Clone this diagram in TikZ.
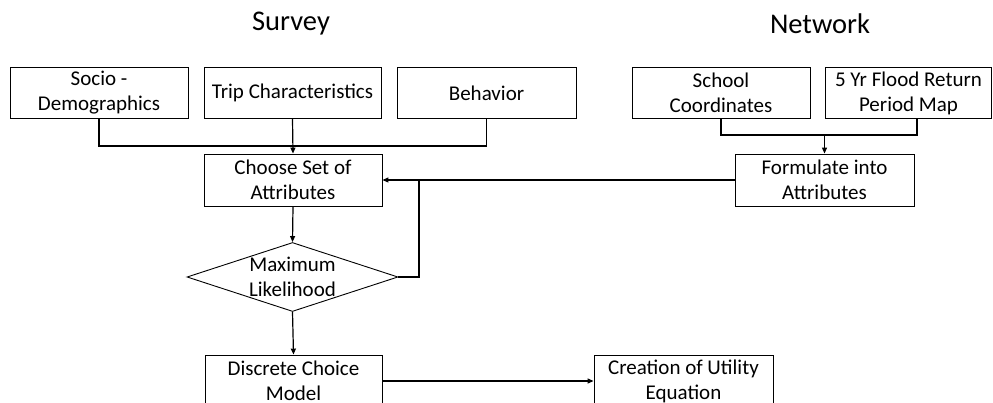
\documentclass[tikz,border=0pt]{standalone}
\usepackage{fontspec}
\setmainfont{Carlito}
\usetikzlibrary{shapes.geometric, arrows.meta}
\begin{document}
\begin{tikzpicture}[x=1pt, y=-1pt,
  box/.style={draw, line width=0.9pt, align=center, inner sep=0pt,
    font=\fontsize{21}{25}\selectfont, minimum height=51pt},
  txt/.style={align=center, inner sep=0pt, font=\fontsize{21}{25}\selectfont},
  ttl/.style={inner sep=0pt, font=\fontsize{28.5}{32}\selectfont},
  conn/.style={line width=1.2pt},
  arr/.style={line width=1.2pt, -{Triangle[length=6pt,width=5pt]}}]
\useasboundingbox (0,0) rectangle (993,403);
\clip (0,0) rectangle (993,403);
\node[ttl] (survey) at (291,24) {Survey};
\node[ttl] (network) at (820,24) {Network};
\node[box, minimum width=178pt] (socio) at (99,93) {Socio -\\Demographics};
\node[box, minimum width=177pt] (trip) at (292.5,93) {Trip Characteristics};
\node[box, minimum width=179pt] (behav) at (486.5,93) {Behavior};
\node[box, minimum width=178pt] (school) at (721,93) {School\\Coordinates};
\node[box, minimum width=166pt] (flood) at (908.5,93) {5 Yr Flood Return\\Period Map};
\node[box, minimum width=178pt, minimum height=52pt] (choose) at (293,180) {Choose Set of\\Attributes};
\node[box, minimum width=179pt, minimum height=52pt] (form) at (824.5,180) {Formulate into\\Attributes};
\node[draw, diamond, line width=0.9pt, inner sep=0pt, minimum width=211pt, minimum height=69pt] (ml) at (292.5,277) {};
\node[txt] (mltext) at (ml.center) {Maximum\\Likelihood};
\node[box, minimum width=177pt, minimum height=52pt] (disc) at (293.5,381) {Discrete Choice\\Model};
\node[box, minimum width=179pt, minimum height=52pt] (creat) at (683.5,381) {Creation of Utility\\Equation};
% survey connectors
\coordinate (j1) at (292.5,146);
\draw[conn] (socio.south) |- (j1);
\draw[conn] (behav.south) |- (j1);
\draw[arr] (trip.south) -- (choose.north);
% network connectors
\coordinate (j2) at (824.5,135);
\draw[conn] (school.south) |- (j2);
\draw[conn] ([xshift=8.5pt]flood.south) |- (j2);
\draw[arr] (j2) -- (form.north);
\draw[arr] (form.west) -- (choose.east);
% feedback
\coordinate (fb) at (419,180);
\draw[line width=2pt] (ml.east) -| (fb);
\draw[arr] (choose.south) -- (ml.north);
\draw[arr] (ml.south) -- (disc.north);
\draw[arr] (disc.east) -- (creat.west);
\end{tikzpicture}
\end{document}
